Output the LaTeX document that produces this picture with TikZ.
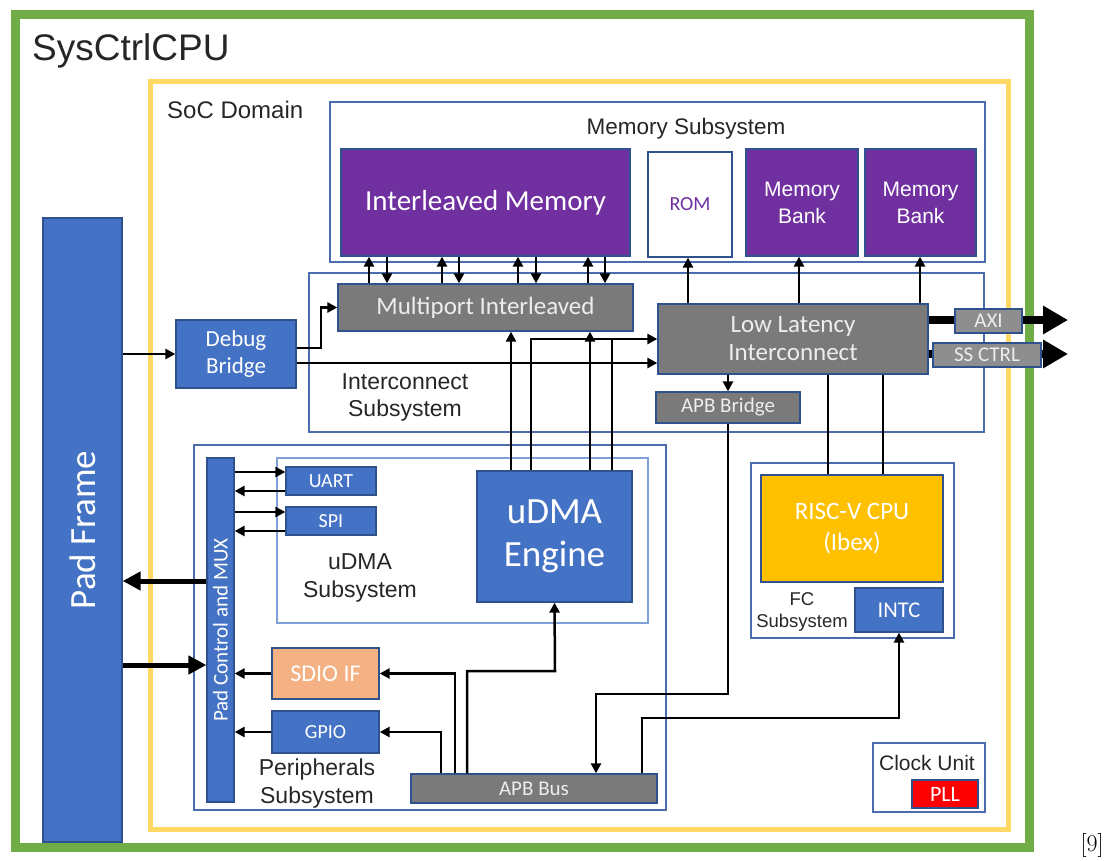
\documentclass[tikz,border=0pt]{standalone}
\usepackage{fontspec}
\newfontfamily\arialf{Liberation Sans}
\newfontfamily\calf{Carlito}
\usetikzlibrary{arrows.meta}
\definecolor{frameGreen}{HTML}{70AD47}
\definecolor{domYellow}{HTML}{FFD966}
\definecolor{blkBlue}{HTML}{4472C4}
\definecolor{blkEdge}{HTML}{2F528F}
\definecolor{ssEdge}{HTML}{4A6DB0}
\definecolor{udmaEdge}{HTML}{7FA0D8}
\definecolor{memPurple}{HTML}{7030A0}
\definecolor{icGray}{HTML}{7A7A7A}
\definecolor{sdioOrange}{HTML}{F4B183}
\definecolor{cpuYellow}{HTML}{FFC000}
\definecolor{pllRed}{HTML}{FF0000}
\definecolor{grayText}{HTML}{EDEDED}
\definecolor{labelText}{HTML}{262626}

\begin{document}
\begin{tikzpicture}[x=1pt,y=-1pt,
  blk/.style={draw=blkEdge, line width=1.3pt, inner sep=0pt, align=center, text=white},
  blueblk/.style={blk, fill=blkBlue},
  purpleblk/.style={blk, fill=memPurple},
  grayblk/.style={blk, fill=icGray, text=grayText},
  subsys/.style={draw=ssEdge, line width=1.6pt, inner sep=0pt},
  lbl/.style={align=center, text=labelText, inner sep=0pt},
  conn/.style={line width=2.5pt, -{Triangle[length=10pt,width=10pt]}},
  link/.style={line width=2.5pt},
  padbus/.style={line width=5pt, -{Triangle[length=18pt,width=18pt]}},
  wide/.style={line width=8.5pt, -{Triangle[length=25pt,width=27pt]}},
]
\useasboundingbox (0,0) rectangle (1110,861);

% outer frames
\draw[frameGreen, line width=9pt] (15,15) rectangle (1029,847);
\draw[domYellow, line width=5pt] (150,82) rectangle (1008,829);
\node[lbl, anchor=west, font=\arialf\fontsize{37}{40}\selectfont] (top) at (32,51) {SysCtrlCPU};
\node[lbl, anchor=west, font=\arialf\fontsize{24}{28}\selectfont] (soc) at (167,110) {SoC Domain};

% subsystem containers
\node[subsys, minimum width=655, minimum height=160] (memss) at (657.5,182) {};
\node[subsys, minimum width=675, minimum height=159] (icss) at (646.5,352.5) {};
\node[subsys, minimum width=472, minimum height=365] (perss) at (430,627.5) {};
\node[draw=udmaEdge, line width=2.5pt, minimum width=371, minimum height=165] (udss) at (462.5,540.5) {};
\node[subsys, minimum width=203, minimum height=175] (fcss) at (852.5,550.5) {};
\node[subsys, minimum width=112, minimum height=69] (clkss) at (929,777.5) {};

\node[lbl, font=\arialf\fontsize{22.5}{27}\selectfont] at (686,129) {Memory Subsystem};
\node[lbl, font=\arialf\fontsize{23}{27}\selectfont] at (405,397) {Interconnect\\Subsystem};
\node[lbl, font=\arialf\fontsize{23}{28}\selectfont] at (360,578) {uDMA\\Subsystem};
\node[lbl, font=\arialf\fontsize{23}{28}\selectfont] at (317,784) {Peripherals\\Subsystem};
\node[lbl, font=\arialf\fontsize{18.5}{22}\selectfont] at (802,612) {FC\\Subsystem};
\node[lbl, font=\arialf\fontsize{21}{25}\selectfont] at (927,763) {Clock Unit};

% memory blocks
\node[purpleblk, minimum width=289, minimum height=107, font=\calf\fontsize{29}{34}\selectfont] (im) at (485.5,202.5) {Interleaved Memory};
\node[blk, fill=white, text=memPurple, minimum width=84, minimum height=105, font=\calf\fontsize{20}{24}\selectfont] (rom) at (690,204.5) {ROM};
\node[purpleblk, minimum width=112, minimum height=107, font=\arialf\fontsize{21}{27}\selectfont] (bank1) at (802,202.5) {Memory\\Bank};
\node[purpleblk, minimum width=111, minimum height=107, font=\arialf\fontsize{21}{27}\selectfont] (bank2) at (920.5,202.5) {Memory\\Bank};

% interconnect blocks
\node[grayblk, minimum width=295, minimum height=47, font=\calf\fontsize{25}{30}\selectfont] (mp) at (485.5,307.5) {Multiport Interleaved};
\node[grayblk, minimum width=270, minimum height=70, font=\calf\fontsize{25}{28}\selectfont] (ll) at (793,339) {Low Latency\\Interconnect};
\node[grayblk, minimum width=144, minimum height=31, font=\calf\fontsize{21}{25}\selectfont] (apbb) at (728,407.5) {APB Bridge};

% pads and debug
\node[blueblk, minimum width=79, minimum height=624] (pf) at (82.5,530) {};
\node[rotate=90, text=white, font=\calf\fontsize{37}{40}\selectfont] at (pf.center) {Pad Frame};
\node[blueblk, minimum width=120, minimum height=68, font=\calf\fontsize{23}{27}\selectfont] (dbg) at (236,354) {Debug\\Bridge};

% peripherals
\node[blueblk, minimum width=27, minimum height=344] (pc) at (220.5,630) {};
\node[rotate=90, text=white, font=\calf\fontsize{21}{24}\selectfont] at (pc.center) {Pad Control and MUX};
\node[blueblk, minimum width=90, minimum height=28, font=\calf\fontsize{20}{24}\selectfont] (uart) at (331,481) {UART};
\node[blueblk, minimum width=90, minimum height=28, font=\calf\fontsize{20}{24}\selectfont] (spi) at (331,521) {SPI};
\node[blueblk, minimum width=155, minimum height=131, font=\calf\fontsize{37}{43}\selectfont] (ude) at (554.5,536.5) {uDMA\\Engine};
\node[blk, fill=sdioOrange, minimum width=107, minimum height=51, font=\calf\fontsize{24}{28}\selectfont] (sdio) at (325.5,673.5) {SDIO IF};
\node[blueblk, minimum width=107, minimum height=42, font=\calf\fontsize{20}{24}\selectfont] (gpio) at (325.5,732) {GPIO};
\node[grayblk, minimum width=246, minimum height=29, font=\calf\fontsize{21}{24}\selectfont] (bus) at (534,788.5) {APB Bus};

% fabric controller and clock
\node[blk, fill=cpuYellow, minimum width=182, minimum height=107, font=\calf\fontsize{25}{31}\selectfont] (cpu) at (852,528.5) {RISC-V CPU\\(Ibex)};
\node[blueblk, minimum width=88, minimum height=44, font=\calf\fontsize{22.5}{26}\selectfont] (intc) at (899,610) {INTC};
\node[blk, fill=pllRed, minimum width=66, minimum height=28, font=\calf\fontsize{22}{26}\selectfont] (pll) at (945,794) {PLL};

% memory ports
\foreach \u/\d in {369/387, 442/459, 518/536, 588/605} {
  \draw[conn] (\u,0 |- mp.north) -- (\u,0 |- im.south);
  \draw[conn] (\d,0 |- im.south) -- (\d,0 |- mp.north);
}
\draw[conn] (688,0 |- ll.north) -- (688,0 |- rom.south);
\draw[conn] (799,0 |- ll.north) -- (799,0 |- bank1.south);
\draw[conn] (920,0 |- ll.north) -- (920,0 |- bank2.south);

% debug bridge paths
\draw[conn] (pf.east |- dbg.west) -- (dbg.west);
\draw[conn] ([yshift=6pt]dbg.east) -- (321,348) |- (mp.west);
\draw[conn] ([yshift=-9pt]dbg.east) -- ([yshift=-9pt]dbg.east -| ll.west);

% uDMA engine to interconnect
\draw[conn] (511,0 |- ude.north) -- (511,0 |- mp.south);
\draw[conn] (590,0 |- ude.north) -- (590,0 |- mp.south);
\draw[conn] (531,0 |- ude.north) |- (ll.west);
\draw[link] (612,0 |- ude.north) -- (612,0 |- ll.west);

% interconnect to CPU and APB bridge
\draw[conn] (728,0 |- ll.south) -- (apbb.north);
\draw[link] (828,0 |- ll.south) -- (828,0 |- cpu.north);
\draw[link] (883,0 |- ll.south) -- (883,0 |- cpu.north);

% external ports
\coordinate (axitip) at (1068,320);
\coordinate (sstip) at (1068,354);
\draw[wide] (ll.east |- axitip) -- (axitip);
\draw[wide] (ll.east |- sstip) -- (sstip);
\node[grayblk, fill=icGray!85, minimum width=67, minimum height=24, font=\calf\fontsize{21}{24}\selectfont] (axi) at (988.5,321) {AXI};
\node[grayblk, fill=icGray!85, minimum width=108, minimum height=24, font=\calf\fontsize{21}{24}\selectfont] (ssctrl) at (987,355) {SS CTRL};

% APB distribution
\draw[conn] (apbb.south) |- (596,694) -- (596,0 |- bus.north);
\draw[conn] (642,0 |- bus.north) |- (899,718) -- (intc.south);
\draw[conn] (467,0 |- bus.north) |- (555,671) -- (ude.south);
\draw[conn] (455,0 |- bus.north) |- (sdio.east);
\draw[conn] (441,0 |- bus.north) |- (gpio.east);

% peripherals to pad control
\draw[conn] (sdio.west) -- (sdio.west -| pc.east);
\draw[conn] (gpio.west) -- (gpio.west -| pc.east);
\draw[conn] (pc.east |- 0,472) -- (uart.west |- 0,472);
\draw[conn] (uart.west |- 0,491) -- (pc.east |- 0,491);
\draw[conn] (pc.east |- 0,512) -- (spi.west |- 0,512);
\draw[conn] (spi.west |- 0,531) -- (pc.east |- 0,531);

% pad control to pad frame
\draw[padbus] (pc.west |- 0,581) -- (pf.east |- 0,581);
\draw[padbus] (pf.east |- 0,665) -- (pc.west |- 0,665);

% reference mark
\node[inner sep=0pt, font=\fontsize{24}{28}\selectfont] (ref) at (1092,845) {[9]};
\end{tikzpicture}
\end{document}
